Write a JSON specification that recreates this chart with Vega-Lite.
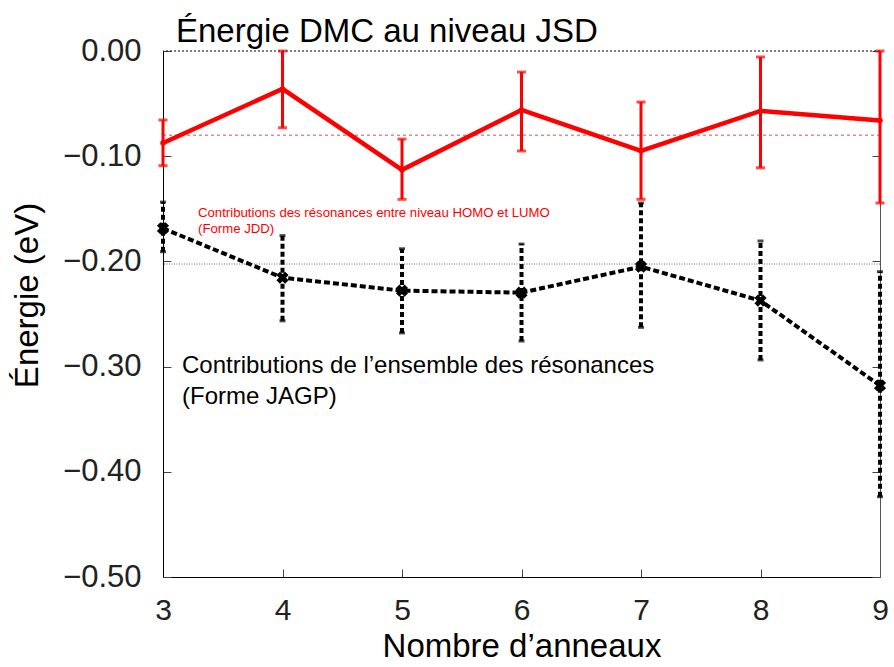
{
  "$schema": "https://vega.github.io/schema/vega-lite/v6.json",
  "width": 717,
  "height": 526,
  "autosize": {"type": "none"},
  "padding": {"left": 163, "top": 51, "right": 14, "bottom": 90},
  "background": "white",
  "config": {
    "view": {"stroke": null},
    "font": "Liberation Sans",
    "axis": {"grid": false, "labelFont": "Liberation Sans", "titleFont": "Liberation Sans", "titleFontWeight": "normal"},
    "axisX": {
      "titleFontSize": 33,
      "titleColor": "#000000",
      "titlePadding": 5,
      "labelFontSize": 30,
      "labelColor": "#222222",
      "labelPadding": 26,
      "tickSize": -8,
      "tickColor": "#444444",
      "domainColor": "#000000",
      "labelFlush": false
    }
  },
  "title": {
    "text": "Énergie DMC au niveau JSD",
    "anchor": "start",
    "frame": "group",
    "dx": 13,
    "dy": 48,
    "offset": 8,
    "baseline": "alphabetic",
    "fontSize": 33,
    "fontWeight": "normal",
    "font": "Liberation Sans",
    "color": "#000000"
  },
  "datasets": {
    "jdd": [
      {"n": 3, "e": -0.0875, "lo": -0.109, "hi": -0.0656},
      {"n": 4, "e": -0.036, "lo": -0.073, "hi": 0.0},
      {"n": 5, "e": -0.113, "lo": -0.141, "hi": -0.0837},
      {"n": 6, "e": -0.056, "lo": -0.095, "hi": -0.020},
      {"n": 7, "e": -0.095, "lo": -0.141, "hi": -0.0485},
      {"n": 8, "e": -0.057, "lo": -0.111, "hi": -0.0057},
      {"n": 9, "e": -0.066, "lo": -0.1445, "hi": 0.0}
    ],
    "jagp": [
      {"n": 3, "e": -0.1686, "lo": -0.1908, "hi": -0.1436},
      {"n": 4, "e": -0.2155, "lo": -0.2565, "hi": -0.1755},
      {"n": 5, "e": -0.2278, "lo": -0.268, "hi": -0.188},
      {"n": 6, "e": -0.2297, "lo": -0.2757, "hi": -0.1835},
      {"n": 7, "e": -0.205, "lo": -0.2627, "hi": -0.1445},
      {"n": 8, "e": -0.2373, "lo": -0.2937, "hi": -0.1806},
      {"n": 9, "e": -0.318, "lo": -0.4237, "hi": -0.2098}
    ],
    "notes_red": [
      {"n": 3.293, "y": -0.154, "label": "Contributions des résonances entre niveau HOMO et LUMO"},
      {"n": 3.293, "y": -0.1695, "label": "(Forme JDD)"}
    ],
    "notes_black": [
      {"n": 3.159, "y": -0.2994, "label": "Contributions de l’ensemble des résonances"},
      {"n": 3.159, "y": -0.3289, "label": "(Forme JAGP)"}
    ]
  },
  "resolve": {"axis": {"y": "independent"}},
  "layer": [
    {
      "data": {"name": "jdd"},
      "mark": {"type": "rule", "color": "#ff0000", "strokeWidth": 3},
      "encoding": {
        "x": {"field": "n", "type": "quantitative", "scale": {"domain": [3, 9], "nice": false, "zero": false}, "axis": {"title": "Nombre d’anneaux", "orient": "bottom", "values": [3, 4, 5, 6, 7, 8, 9], "format": "d"}},
        "y": {
          "field": "lo", "type": "quantitative",
          "scale": {"domain": [-0.5, 0], "nice": false, "zero": false},
          "axis": {
            "orient": "left",
            "values": [-0.5, -0.4, -0.3, -0.2, -0.1, 0],
            "labelExpr": "replace(format(datum.value, '.2f'), '-', '–')",
            "title": "Énergie (eV)",
            "titleFontSize": 33,
            "titleColor": "#000000",
            "titleX": -136,
            "titleY": 244,
            "titleAlign": "center",
            "titleBaseline": "middle",
            "labelFontSize": 31,
            "labelColor": "#222222",
            "labelPadding": 30,
            "tickSize": -8,
            "tickColor": "#444444",
            "domainColor": "#000000"
          }
        },
        "y2": {"field": "hi"}
      }
    },
    {
      "data": {"name": "jagp"},
      "mark": {"type": "rule", "color": "#000000", "strokeWidth": 4, "strokeDash": [5, 3]},
      "encoding": {
        "x": {"field": "n", "type": "quantitative", "scale": {"domain": [3, 9], "nice": false, "zero": false}, "axis": {"title": "Nombre d’anneaux", "orient": "bottom", "values": [3, 4, 5, 6, 7, 8, 9], "format": "d"}},
        "y": {
          "field": "lo", "type": "quantitative",
          "scale": {"domain": [-0.5, 0], "nice": false, "zero": false},
          "axis": {
            "orient": "right",
            "values": [-0.5, -0.4, -0.3, -0.2, -0.1, 0],
            "labels": false,
            "title": null,
            "tickSize": -8,
            "tickColor": "#444444",
            "domainColor": "#555555"
          }
        },
        "y2": {"field": "hi"}
      }
    },
    {
      "data": {"values": [{}]},
      "mark": {"type": "rule", "color": "#000000", "strokeWidth": 1, "strokeDash": [2, 2]},
      "encoding": {"y": {"datum": 0, "type": "quantitative", "scale": {"domain": [-0.5, 0], "nice": false, "zero": false}, "axis": null}}
    },
    {
      "data": {"values": [{}]},
      "mark": {"type": "rule", "color": "#cc2222", "strokeWidth": 0.8, "strokeDash": [3, 3]},
      "encoding": {"y": {"datum": -0.08, "type": "quantitative", "scale": {"domain": [-0.5, 0], "nice": false, "zero": false}, "axis": null}}
    },
    {
      "data": {"values": [{}]},
      "mark": {"type": "rule", "color": "#444444", "strokeWidth": 0.8, "strokeDash": [1, 1.5]},
      "encoding": {"y": {"datum": -0.2025, "type": "quantitative", "scale": {"domain": [-0.5, 0], "nice": false, "zero": false}, "axis": null}}
    },
    {
      "data": {"name": "jdd"},
      "transform": [{"fold": ["lo", "hi"], "as": ["end", "v"]}],
      "mark": {"type": "tick", "color": "#ff0000", "orient": "horizontal", "size": 9, "thickness": 3},
      "encoding": {
        "x": {"field": "n", "type": "quantitative", "scale": {"domain": [3, 9], "nice": false, "zero": false}, "axis": {"title": "Nombre d’anneaux", "orient": "bottom", "values": [3, 4, 5, 6, 7, 8, 9], "format": "d"}},
        "y": {"field": "v", "type": "quantitative", "scale": {"domain": [-0.5, 0], "nice": false, "zero": false}, "axis": null}
      }
    },
    {
      "data": {"name": "jagp"},
      "transform": [{"fold": ["lo", "hi"], "as": ["end", "v"]}],
      "mark": {"type": "tick", "color": "#000000", "orient": "horizontal", "size": 6, "thickness": 3},
      "encoding": {
        "x": {"field": "n", "type": "quantitative", "scale": {"domain": [3, 9], "nice": false, "zero": false}, "axis": {"title": "Nombre d’anneaux", "orient": "bottom", "values": [3, 4, 5, 6, 7, 8, 9], "format": "d"}},
        "y": {"field": "v", "type": "quantitative", "scale": {"domain": [-0.5, 0], "nice": false, "zero": false}, "axis": null}
      }
    },
    {
      "data": {"name": "jdd"},
      "mark": {"type": "line", "color": "#ff0000", "strokeWidth": 4.5, "point": {"filled": true, "color": "#ff0000", "size": 30}},
      "encoding": {
        "x": {"field": "n", "type": "quantitative", "scale": {"domain": [3, 9], "nice": false, "zero": false}, "axis": {"title": "Nombre d’anneaux", "orient": "bottom", "values": [3, 4, 5, 6, 7, 8, 9], "format": "d"}},
        "y": {"field": "e", "type": "quantitative", "scale": {"domain": [-0.5, 0], "nice": false, "zero": false}, "axis": null}
      }
    },
    {
      "data": {"name": "jagp"},
      "mark": {"type": "line", "color": "#000000", "strokeWidth": 4, "strokeDash": [6, 3]},
      "encoding": {
        "x": {"field": "n", "type": "quantitative", "scale": {"domain": [3, 9], "nice": false, "zero": false}, "axis": {"title": "Nombre d’anneaux", "orient": "bottom", "values": [3, 4, 5, 6, 7, 8, 9], "format": "d"}},
        "y": {"field": "e", "type": "quantitative", "scale": {"domain": [-0.5, 0], "nice": false, "zero": false}, "axis": null}
      }
    },
    {
      "data": {"name": "jagp"},
      "mark": {"type": "point", "shape": "cross", "angle": 45, "filled": true, "color": "#000000", "size": 150, "opacity": 1},
      "encoding": {
        "x": {"field": "n", "type": "quantitative", "scale": {"domain": [3, 9], "nice": false, "zero": false}, "axis": {"title": "Nombre d’anneaux", "orient": "bottom", "values": [3, 4, 5, 6, 7, 8, 9], "format": "d"}},
        "y": {"field": "e", "type": "quantitative", "scale": {"domain": [-0.5, 0], "nice": false, "zero": false}, "axis": null}
      }
    },
    {
      "data": {"name": "notes_red"},
      "mark": {"type": "text", "color": "#ff0000", "fontSize": 13.2, "align": "left", "baseline": "middle", "font": "Liberation Sans"},
      "encoding": {
        "x": {"field": "n", "type": "quantitative", "scale": {"domain": [3, 9], "nice": false, "zero": false}, "axis": {"title": "Nombre d’anneaux", "orient": "bottom", "values": [3, 4, 5, 6, 7, 8, 9], "format": "d"}},
        "y": {"field": "y", "type": "quantitative", "scale": {"domain": [-0.5, 0], "nice": false, "zero": false}, "axis": null},
        "text": {"field": "label"}
      }
    },
    {
      "data": {"name": "notes_black"},
      "mark": {"type": "text", "color": "#000000", "fontSize": 24, "align": "left", "baseline": "middle", "font": "Liberation Sans"},
      "encoding": {
        "x": {"field": "n", "type": "quantitative", "scale": {"domain": [3, 9], "nice": false, "zero": false}, "axis": {"title": "Nombre d’anneaux", "orient": "bottom", "values": [3, 4, 5, 6, 7, 8, 9], "format": "d"}},
        "y": {"field": "y", "type": "quantitative", "scale": {"domain": [-0.5, 0], "nice": false, "zero": false}, "axis": null},
        "text": {"field": "label"}
      }
    }
  ]
}
